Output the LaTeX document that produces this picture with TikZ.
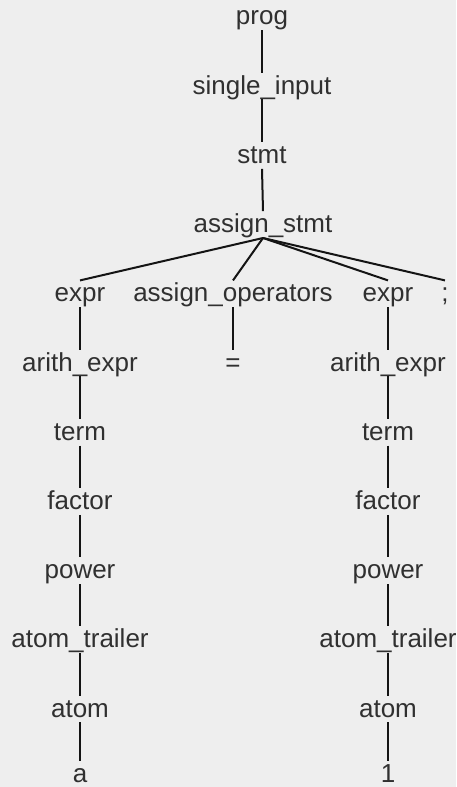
\documentclass[tikz,border=0pt]{standalone}
\usepackage{fontspec}
\setmainfont{Liberation Sans}
\definecolor{bgc}{RGB}{238,238,238}
\definecolor{txtc}{RGB}{48,48,48}
\definecolor{edgec}{RGB}{20,20,20}
\begin{document}
\begin{tikzpicture}[x=0.5pt,y=-0.5pt,
  lbl/.style={anchor=base, inner sep=0pt, text height=10.5pt, text depth=2.5pt,
              text=txtc, font=\fontsize{13pt}{15pt}\selectfont},
  leaf/.style={lbl, text depth=0pt},
  edge/.style={draw=edgec, line width=1pt}]
  % canvas
  \fill[bgc] (0,0) rectangle (456,787);
  \useasboundingbox (0,0) rectangle (456,787);

  % spine
  \node[lbl] (prog) at (262,25)    {prog};
  \node[lbl] (sinp) at (262,94)    {single\_input};
  \node[lbl] (stmt) at (262,163.4) {stmt};
  \node[lbl] (asg)  at (263,232.6) {assign\_stmt};

  % children of assign_stmt
  \node[lbl] (exL)  at (80,301.8)  {expr};
  \node[lbl] (aop)  at (233,301.8) {assign\_operators};
  \node[lbl] (exR)  at (388,301.8) {expr};
  \node[lbl] (semi) at (445,301.8) {;};

  % left branch
  \node[lbl] (arL)   at (80,371)   {arith\_expr};
  \node[lbl] (termL) at (80,440.2) {term};
  \node[lbl] (facL)  at (80,509.4) {factor};
  \node[lbl] (powL)  at (80,578.6) {power};
  \node[lbl] (atrL)  at (80,647.8) {atom\_trailer};
  \node[lbl] (atomL) at (80,717)   {atom};
  \node[leaf] (leafa) at (80,782) {a};

  % operator
  \node[lbl] (eq) at (233,371) {=};

  % right branch
  \node[lbl] (arR)   at (388,371)   {arith\_expr};
  \node[lbl] (termR) at (388,440.2) {term};
  \node[lbl] (facR)  at (388,509.4) {factor};
  \node[lbl] (powR)  at (388,578.6) {power};
  \node[lbl] (atrR)  at (388,647.8) {atom\_trailer};
  \node[lbl] (atomR) at (388,717)   {atom};
  \node[leaf] (leaf1) at (388,782) {1};

  % edges
  \draw[edge] (prog.south) -- (sinp.north);
  \draw[edge] (sinp.south) -- (stmt.north);
  \draw[edge] (stmt.south) -- (asg.north);
  \foreach \c in {exL,aop,exR,semi}
    \draw[edge] (asg.south) -- (\c.north);
  \draw[edge] (aop.south) -- (eq.north);
  \foreach \p/\c in {exL/arL,arL/termL,termL/facL,facL/powL,powL/atrL,atrL/atomL,atomL/leafa,
                     exR/arR,arR/termR,termR/facR,facR/powR,powR/atrR,atrR/atomR,atomR/leaf1}
    \draw[edge] (\p.south) -- (\c.north);
\end{tikzpicture}
\end{document}
